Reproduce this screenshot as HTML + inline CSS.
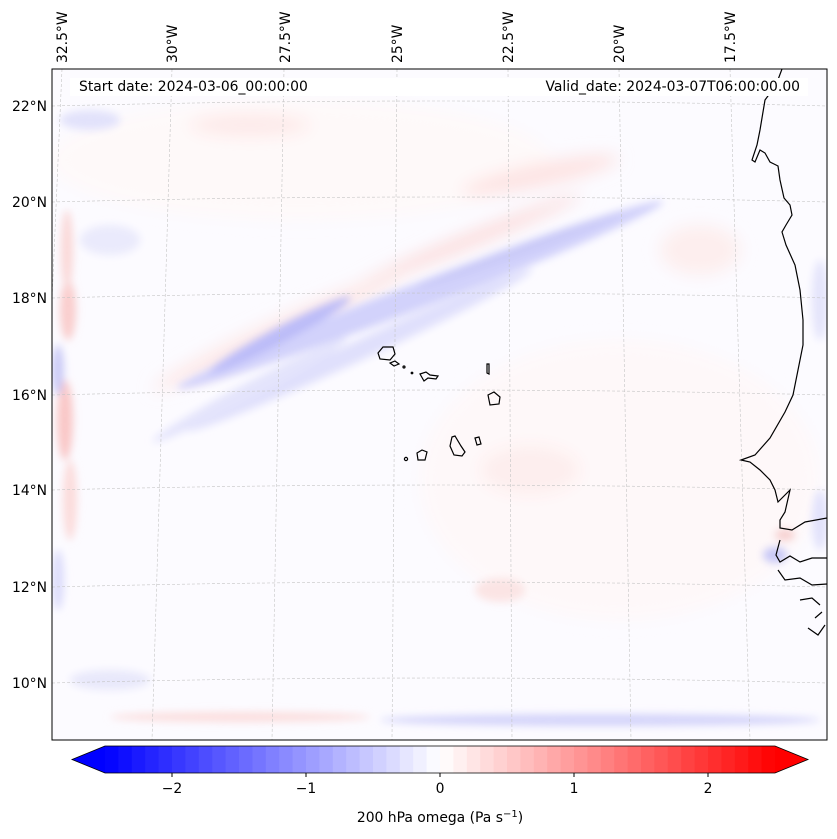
<!DOCTYPE html>
<html><head><meta charset="utf-8"><style>
body{margin:0;background:#fff;width:837px;height:839px;overflow:hidden;font-family:"Liberation Sans","DejaVu Sans",sans-serif}
svg{position:absolute;left:0;top:0}
text{font-family:"DejaVu Sans","Liberation Sans",sans-serif;font-size:13.9px;fill:#000}
</style></head><body>
<svg id="s" width="837" height="839" viewBox="0 0 837 839">
<defs>
<filter id="b6" x="-50%" y="-50%" width="200%" height="200%"><feGaussianBlur stdDeviation="8"/></filter>
<filter id="b3" x="-50%" y="-50%" width="200%" height="200%"><feGaussianBlur stdDeviation="4"/></filter>
<clipPath id="mc"><rect x="52" y="69" width="775" height="671"/></clipPath>
</defs>
<g clip-path="url(#mc)">
<rect x="52" y="69" width="775" height="671" fill="#fcfbff"/>
<g filter="url(#b6)">
<ellipse cx="300" cy="160" rx="250" ry="60" fill="#fff8f7" opacity="0.7"/>
<ellipse cx="620" cy="480" rx="200" ry="140" fill="#fff7f7" opacity="0.7"/>
<ellipse cx="540" cy="175" rx="80" ry="12" fill="#fde4e4" transform="rotate(-12 540 175)"/>
<ellipse cx="470" cy="240" rx="120" ry="7" fill="#fbdcdc" transform="rotate(-22 470 240)"/>
<ellipse cx="280" cy="330" rx="140" ry="12" fill="#fde9e9" transform="rotate(-25 280 330)"/>
<ellipse cx="250" cy="125" rx="60" ry="12" fill="#fdeaea"/>
<ellipse cx="530" cy="470" rx="50" ry="25" fill="#fdeeee"/>
<ellipse cx="700" cy="250" rx="40" ry="25" fill="#fdeeee"/>
</g>
<g filter="url(#b3)">
<ellipse cx="420" cy="295" rx="260" ry="13" fill="#d2d2fb" transform="rotate(-21 420 295)"/>
<ellipse cx="280" cy="335" rx="80" ry="8" fill="#bcbcf8" transform="rotate(-28 280 335)"/>
<ellipse cx="520" cy="250" rx="110" ry="6" fill="#cacaf8" transform="rotate(-20 520 250)"/>
<ellipse cx="360" cy="350" rx="190" ry="10" fill="#e0e0fc" transform="rotate(-25 360 350)"/>
<ellipse cx="250" cy="390" rx="110" ry="8" fill="#e4e4fc" transform="rotate(-28 250 390)"/>
<ellipse cx="600" cy="720" rx="220" ry="6" fill="#d4d4fa"/>
<ellipse cx="240" cy="717" rx="130" ry="5" fill="#fbdede"/>
<ellipse cx="65" cy="420" rx="8" ry="40" fill="#f9c8c8"/>
<ellipse cx="68" cy="310" rx="8" ry="30" fill="#f9cece"/>
<ellipse cx="67" cy="250" rx="6" ry="40" fill="#fad8d8"/>
<ellipse cx="70" cy="500" rx="7" ry="40" fill="#fbdcdc"/>
<ellipse cx="58" cy="370" rx="6" ry="25" fill="#cacaf6"/>
<ellipse cx="58" cy="580" rx="6" ry="30" fill="#dcdcfb"/>
<ellipse cx="90" cy="120" rx="30" ry="10" fill="#e2e2fb"/>
<ellipse cx="110" cy="240" rx="30" ry="15" fill="#eaeafc"/>
<ellipse cx="820" cy="300" rx="8" ry="40" fill="#e4e4fb"/>
<ellipse cx="820" cy="520" rx="8" ry="30" fill="#e2e2fb"/>
<ellipse cx="775" cy="555" rx="12" ry="8" fill="#c8c8f6"/>
<ellipse cx="785" cy="535" rx="10" ry="6" fill="#f6d0d0"/>
<ellipse cx="500" cy="590" rx="25" ry="12" fill="#fbe4e4"/>
<ellipse cx="110" cy="680" rx="40" ry="10" fill="#e8e8fb"/>
</g>
<g stroke="#c4c4c4" stroke-width="0.6" stroke-dasharray="3,2" fill="none">
<path d="M172 69L152 740M284 69L272 740M397 69L392 740M508 69L512 740M619 69L631 740M730 69L750 740M62 69L33 740"/>
<path d="M52 106Q440 96 827 106M52 202Q440 192 827 202M52 298Q440 288 827 298M52 395Q440 385 827 395M52 490Q440 480 827 490M52 587Q440 577 827 587M52 683Q440 673 827 683"/>
</g>
<g stroke="#000" stroke-width="1.2" fill="none">
<path d="M782 69L776 85L765 100L760 130L757 145L752 160L755 162L760 150L765 153L770 162L778 166L780 180L784 198L790 205L792 215L786 225L782 232L786 245L795 265L800 290L803 320L803 345L798 370L793 395L785 412L770 438L755 455L741 460L750 462L760 470L770 480L775 490L778 502L790 490L785 512L780 520L780 528L792 530L805 522L827 518M780 540L776 555L780 562L790 556L800 562L812 558L827 558M778 570L785 580L800 578L812 585L827 584M800 600L812 598L820 605M815 618L822 612M808 628L818 635L825 625"/>
</g>
<g stroke="#000" stroke-width="1.2" fill="none">
<path d="M378 353L383 347L393 347L395 354L390 360L380 359Z"/>
<path d="M390 363L395 361L399 364L394 366Z"/>
<circle cx="404" cy="367" r="1"/><circle cx="412" cy="373" r="0.8"/>
<path d="M420 374L426 372L430 375L438 376L436 379L428 378L424 381Z"/>
<path d="M487 364L489 364L489 374L487 373Z"/>
<path d="M488 395L494 392L500 397L499 404L490 405Z"/>
<path d="M452 437L455 436L461 446L465 452L462 456L454 455L450 446Z"/>
<path d="M475 438L479 437L481 444L477 445Z"/>
<path d="M417 453L422 450L427 452L425 460L418 460Z"/>
<circle cx="406" cy="459" r="1.6"/>
</g>
<rect x="70" y="78" width="738" height="18" fill="#fff"/>
<text x="79" y="91">Start date: 2024-03-06_00:00:00</text>
<text x="800" y="91" text-anchor="end">Valid_date: 2024-03-07T06:00:00.00</text>
</g>
<rect x="52" y="69" width="775" height="671" fill="none" stroke="#000" stroke-width="1"/>
<g>
<text x="47" y="111" text-anchor="end">22°N</text>
<text x="47" y="207" text-anchor="end">20°N</text>
<text x="47" y="303" text-anchor="end">18°N</text>
<text x="47" y="400" text-anchor="end">16°N</text>
<text x="47" y="495" text-anchor="end">14°N</text>
<text x="47" y="592" text-anchor="end">12°N</text>
<text x="47" y="688" text-anchor="end">10°N</text>
</g>
<g>
<text transform="translate(67 63) rotate(-90)">32.5°W</text>
<text transform="translate(177 63) rotate(-90)">30°W</text>
<text transform="translate(290 63) rotate(-90)">27.5°W</text>
<text transform="translate(402 63) rotate(-90)">25°W</text>
<text transform="translate(513 63) rotate(-90)">22.5°W</text>
<text transform="translate(624 63) rotate(-90)">20°W</text>
<text transform="translate(735 63) rotate(-90)">17.5°W</text>
</g>
<g id="cb"></g>
<text x="440" y="822" text-anchor="middle">200 hPa omega (Pa s<tspan dy="-5" font-size="10">−1</tspan><tspan dy="5">)</tspan></text>
</svg>
<script>
const cbMin = -2.5;
const cbMax = 2.5;
const cbStep = 0.1;
const tickValues = [-2, -1, 0, 1, 2];
const tickLabels = ["−2", "−1", "0", "1", "2"];
const NS = "http://www.w3.org/2000/svg";
const cb = document.getElementById('cb');
const x0 = 105, x1 = 775, y0 = 746, y1 = 773;
const xs = v => x0 + (v - cbMin) / (cbMax - cbMin) * (x1 - x0);
function bwr(t){t=Math.max(0,Math.min(1,t));let r,g,b;if(t<0.5){r=g=Math.round(2*t*255);b=255;}else{r=255;g=b=Math.round((2-2*t)*255);}return `rgb(${r},${g},${b})`;}
const n = Math.round((cbMax - cbMin) / cbStep);
for (let i = 0; i < n; i++) {
  const a = cbMin + i * cbStep, c = a + cbStep / 2;
  const r = document.createElementNS(NS, 'rect');
  
  
  r.setAttribute('x', xs(a)); r.setAttribute('y', y0);
  r.setAttribute('width', xs(a + cbStep) - xs(a) + 0.5); r.setAttribute('height', y1 - y0);
  r.setAttribute('fill', bwr((c - cbMin) / (cbMax - cbMin)));
  cb.appendChild(r);
}
const lt = document.createElementNS(NS, 'path');


lt.setAttribute('d', `M${x0} ${y0}L72 ${(y0+y1)/2}L${x0} ${y1}Z`); lt.setAttribute('fill', '#0000ff');
cb.appendChild(lt);
const rt = document.createElementNS(NS, 'path');


rt.setAttribute('d', `M${x1} ${y0}L808 ${(y0+y1)/2}L${x1} ${y1}Z`); rt.setAttribute('fill', '#ff0000');
cb.appendChild(rt);
const ol = document.createElementNS(NS, 'path');


ol.setAttribute('d', `M${x0} ${y0}L72 ${(y0+y1)/2}L${x0} ${y1}L${x1} ${y1}L808 ${(y0+y1)/2}L${x1} ${y0}Z`);
ol.setAttribute('fill', 'none'); ol.setAttribute('stroke', '#000'); ol.setAttribute('stroke-width', '0.8');
cb.appendChild(ol);
tickValues.forEach((v, i) => {
  const tk = document.createElementNS(NS, 'line');
  
  
  tk.setAttribute('x1', xs(v)); tk.setAttribute('x2', xs(v)); tk.setAttribute('y1', y1); tk.setAttribute('y2', y1 + 4);
  tk.setAttribute('stroke', '#000');
  cb.appendChild(tk);
  const t = document.createElementNS(NS, 'text');
  
  
  t.setAttribute('x', xs(v)); t.setAttribute('y', 793); t.setAttribute('text-anchor', 'middle');
  t.textContent = tickLabels[i];
  cb.appendChild(t);
});
</script>
</body></html>
